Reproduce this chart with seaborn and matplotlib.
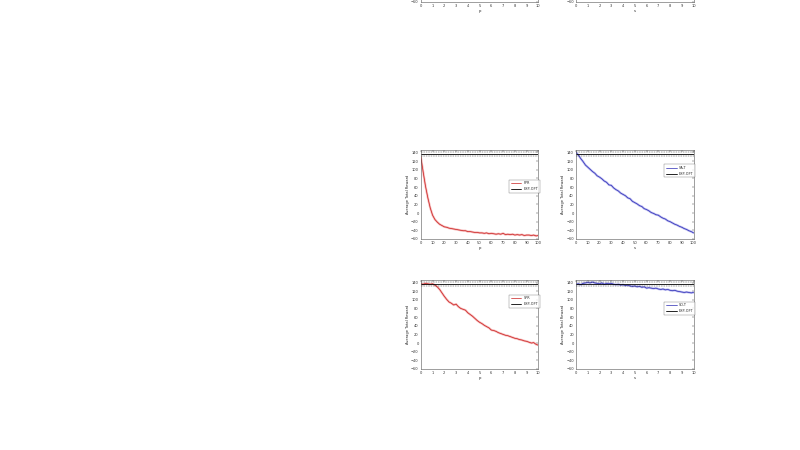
import numpy as np
import pandas as pd
import matplotlib
matplotlib.use("Agg")
import matplotlib.pyplot as plt
import seaborn as sns

# x grids
p_long = list(range(0, 101, 2))
s_short = [round(i * 0.2, 1) for i in range(51)]

# PPR (red, p = 0..100)
ppr = [130, 95, 62, 35, 12, -5, -15, -21, -26, -29, -32, -33, -35, -36, -37,
       -38, -39, -40, -41, -41, -43, -43, -44, -45, -45, -46, -46, -47, -46, -48,
       -47, -48, -49, -48, -49, -47, -50, -49, -50, -49, -51, -50, -51, -50, -52,
       -51, -51, -52, -51, -53, -52]

# SA-T (blue, s = 0..100)
sat = [140, 134, 126, 119, 111, 106, 101, 96, 92, 86, 83, 79, 74, 71, 65, 64,
       58, 54, 51, 46, 43, 40, 35, 33, 27, 24, 21, 17, 15, 10, 8, 5, 1, -1, -4,
       -5, -9, -12, -14, -18, -20, -23, -26, -28, -31, -33, -36, -38, -41, -43, -46]

# SPR (red, p = 0..10)
spr = [137, 136, 138, 137, 136, 137, 134, 130, 124, 116, 108, 101, 95, 92, 88,
       90, 84, 80, 78, 76, 70, 66, 62, 57, 52, 48, 45, 41, 38, 35, 30, 29, 27, 24,
       22, 20, 18, 17, 15, 13, 11, 10, 8, 7, 5, 4, 2, 0, 1, -3, -5]

# SD-T (blue, s = 0..10)
sdt = [136, 137, 135, 138, 139, 140, 139, 141, 139, 138, 137, 139, 136, 138, 137,
       138, 136, 135, 136, 134, 135, 133, 134, 132, 131, 132, 130, 131, 129, 130,
       127, 128, 127, 126, 127, 125, 124, 125, 123, 124, 122, 121, 122, 120, 119,
       118, 117, 118, 117, 116, 117]

exp_opt = 137
exp_band = [142, 132]
yticks = [140, 120, 100, 80, 60, 40, 20, 0, -20, -40, -60]

sns.set_theme(style="white")
plt.rcParams['font.family'] = ['DejaVu Sans']

fig = plt.figure(figsize=(8, 4.5), dpi=100)

def make_axes(left, bottom, xmax, xticks, xlabel):
    ax = fig.add_axes([left, bottom, 0.147, 0.197])
    ax.set_xlim(0, xmax)
    ax.set_ylim(-60, 145)
    ax.set_xticks(xticks)
    ax.set_yticks(yticks)
    ax.tick_params(direction='in', length=1.5, width=0.3, labelsize=2.6,
                   top=True, right=True, pad=1.5, colors='#333333')
    for sp in ax.spines.values():
        sp.set_linewidth(0.4)
        sp.set_color('#555555')
    ax.set_xlabel(xlabel, fontsize=2.8, labelpad=0.5)
    return ax

def draw(ax, x, y, color, light, label, xmax, legend_pos):
    df = pd.DataFrame({'x': x, 'y': y})
    sns.lineplot(data=df, x='x', y='y', ax=ax, color=light, linewidth=1.6,
                 alpha=0.6, legend=False)
    sns.lineplot(data=df, x='x', y='y', ax=ax, color=color, linewidth=0.5,
                 label=label)
    ax.plot([0, xmax], [exp_opt, exp_opt], color='black', linewidth=0.6,
            label='EXP-OPT')
    for v in exp_band:
        ax.plot([0, xmax], [v, v], color='#333333', linewidth=0.35,
                linestyle=(0, (3, 2)))
    ax.set_xlim(0, xmax)
    ax.set_ylabel('Average Total Reward', fontsize=2.6, labelpad=1)
    leg = ax.legend(loc='upper left', bbox_to_anchor=legend_pos, fontsize=2.4,
                    frameon=True, fancybox=False, handlelength=3.2,
                    handletextpad=0.6, borderpad=0.5, labelspacing=0.5,
                    edgecolor='#555555', borderaxespad=0)
    leg.get_frame().set_linewidth(0.3)

short_ticks = list(range(0, 11))
long_ticks = list(range(0, 101, 10))

# top row (mostly cut off)
make_axes(0.526, 0.9956, 10, short_ticks, 'p')
make_axes(0.72, 0.9956, 10, short_ticks, 's')

ax1 = make_axes(0.526, 0.469, 100, long_ticks, 'p')
draw(ax1, p_long, ppr, '#c81e1e', '#f08a8a', 'PPR', 100, (0.75, 0.67))

ax2 = make_axes(0.72, 0.469, 100, long_ticks, 's')
draw(ax2, p_long, sat, '#2a2ab4', '#8c8ce6', 'SA-T', 100, (0.75, 0.84))

ax3 = make_axes(0.526, 0.18, 10, short_ticks, 'p')
draw(ax3, s_short, spr, '#c81e1e', '#f08a8a', 'SPR', 10, (0.75, 0.84))

ax4 = make_axes(0.72, 0.18, 10, short_ticks, 's')
draw(ax4, s_short, sdt, '#2a2ab4', '#8c8ce6', 'SD-T', 10, (0.75, 0.76))

fig.savefig('out.png', dpi=100)
